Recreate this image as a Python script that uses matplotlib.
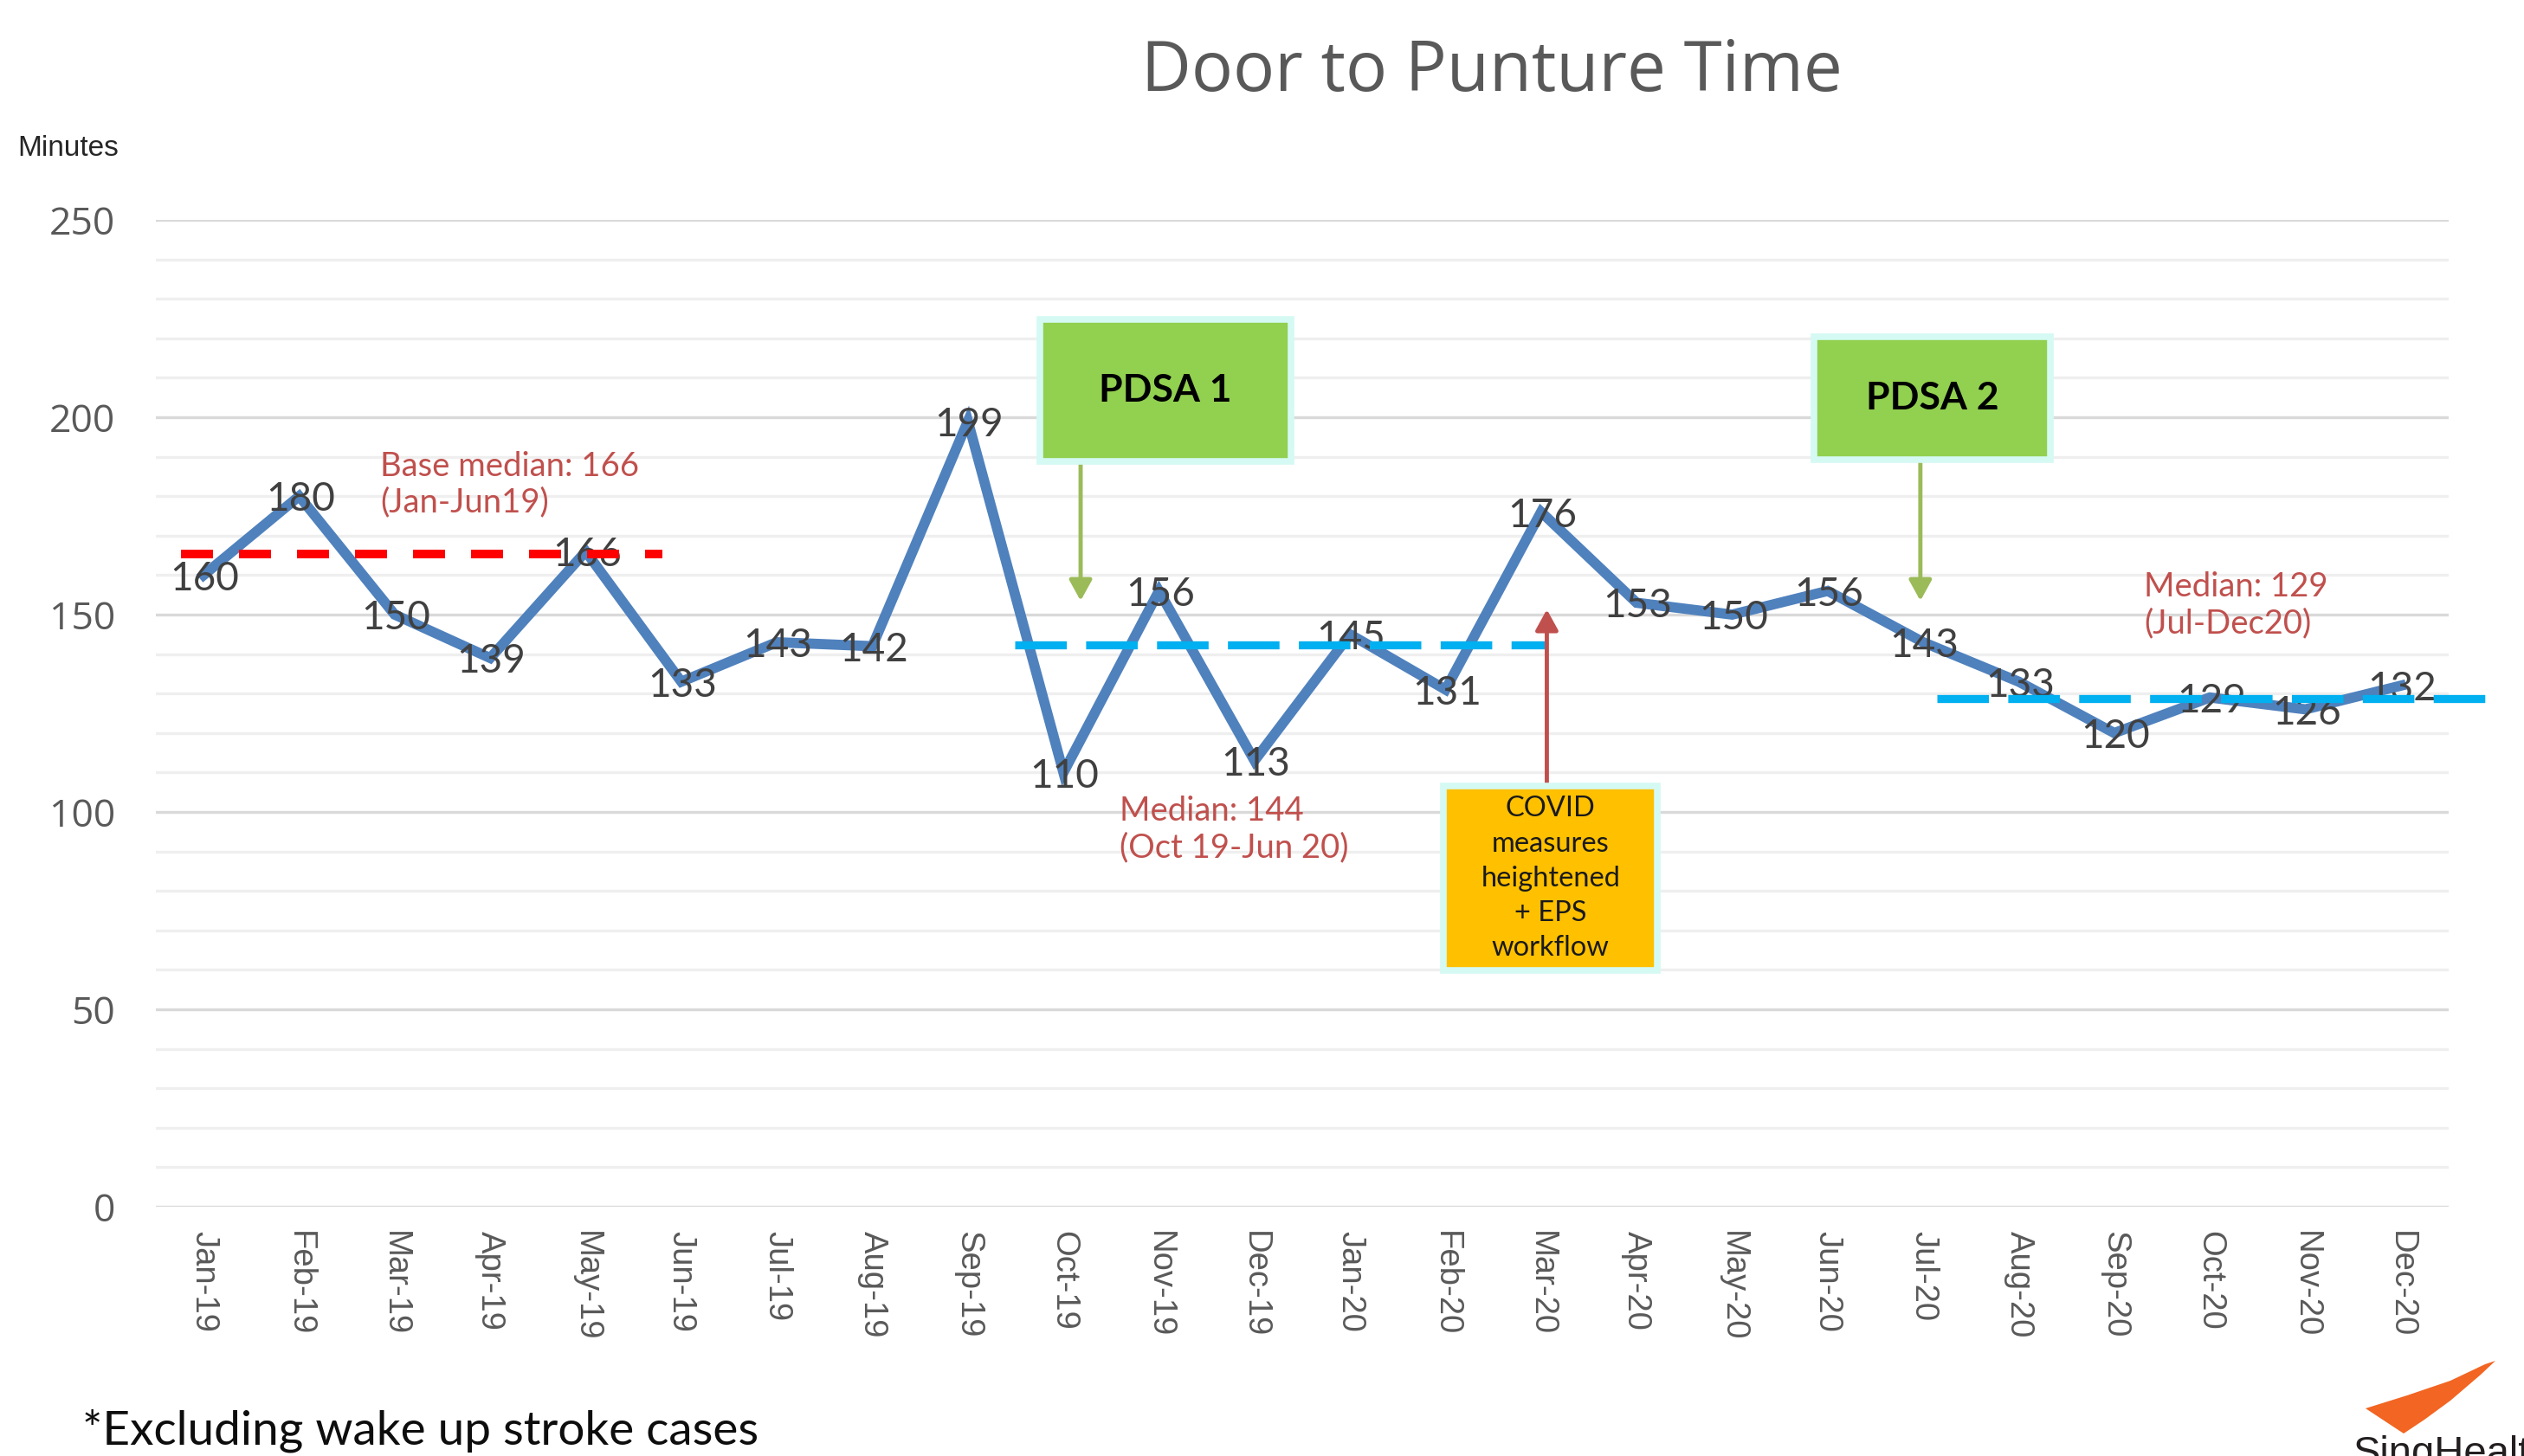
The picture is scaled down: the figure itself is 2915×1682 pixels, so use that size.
import matplotlib
matplotlib.use("Agg")
import matplotlib.pyplot as plt
from matplotlib.patches import Rectangle, FancyArrowPatch, Polygon
from matplotlib.ticker import MultipleLocator

# ---------------- data ----------------
months = ["Jan-19", "Feb-19", "Mar-19", "Apr-19", "May-19", "Jun-19", "Jul-19", "Aug-19",
          "Sep-19", "Oct-19", "Nov-19", "Dec-19", "Jan-20", "Feb-20", "Mar-20", "Apr-20",
          "May-20", "Jun-20", "Jul-20", "Aug-20", "Sep-20", "Oct-20", "Nov-20", "Dec-20"]
minutes = [160, 180, 150, 139, 166, 133, 143, 142, 199, 110, 156, 113,
           145, 131, 176, 153, 150, 156, 143, 133, 120, 129, 126, 132]

# median reference lines: (x start, x end, level as drawn)
median_x0 = [-0.24, 8.49, 18.14]
median_x1 = [4.80, 14.04, 23.91]
median_y = [165.3, 142.3, 128.7]
median_labels = ["Base median: 166\n(Jan-Jun19)", "Median: 144\n(Oct 19-Jun 20)",
                 "Median: 129\n(Jul-Dec20)"]
median_label_x = [1.85, 9.59, 20.31]
median_label_y = [183.0, 95.6, 152.4]

yticks = [0, 50, 100, 150, 200, 250]

# ---------------- style ----------------
LINE_BLUE = "#4F81BD"
NOTE_RED = "#C0504D"
CALIBRI = ["Lato", "DejaVu Sans"]
SEGOE = ["Open Sans", "DejaVu Sans"]
ARIAL = ["Liberation Sans", "DejaVu Sans"]

W, H = 2915, 1682
fig = plt.figure(figsize=(W / 100, H / 100), dpi=100)
fig.patch.set_facecolor("white")

ax = fig.add_axes([180 / W, 1 - 1394 / H, (2828 - 180) / W, (1394 - 254) / H])
ax.set_facecolor("white")
ax.set_xlim(-0.5, 23.5)
ax.set_ylim(0, 250)

# grid
ax.yaxis.set_major_locator(MultipleLocator(50))
ax.yaxis.set_minor_locator(MultipleLocator(10))
ax.grid(axis="y", which="minor", color="#EFEFEF", linewidth=2.4, zorder=0)
ax.grid(axis="y", which="major", color="#D9D9D9", linewidth=2.4, zorder=0)
ax.set_axisbelow(True)
for s in ax.spines.values():
    s.set_visible(False)

ax.set_yticks(yticks)
ax.set_yticklabels([str(v) for v in yticks], fontfamily=SEGOE, fontsize=32, color="#595959")
ax.tick_params(axis="y", which="both", length=0, pad=34)
x = list(range(len(months)))
ax.set_xticks(x)
ax.set_xticklabels(months, rotation=-90, fontfamily=ARIAL, fontsize=27.5, color="#595959",
                   va="top", ha="center")
ax.tick_params(axis="x", length=0, pad=20)

# data line
ax.plot(x, minutes, color=LINE_BLUE, linewidth=8.5, solid_joinstyle="miter", zorder=2)
for xi, v in zip(x, minutes):
    ax.annotate(str(v), (xi, v), xytext=(1, -3), textcoords="offset points",
                ha="center", va="center", fontfamily=CALIBRI, fontsize=33,
                color="#404040", zorder=3)

# median lines
median_colors = ["#FF0000", "#00B0F0", "#00B0F0"]
median_dash = [(0, (3.7, 3.0)), (0, (6.4, 2.4)), (0, (6.4, 2.4))]
median_lw = [7.2, 6.7, 6.7]
for x0, x1, y, c, ls, lw in zip(median_x0, median_x1, median_y, median_colors, median_dash, median_lw):
    ax.plot([x0, x1], [y, y], color=c, linewidth=lw, linestyle=ls, dash_capstyle="butt",
            zorder=4, clip_on=False)
for tx, ty, t in zip(median_label_x, median_label_y, median_labels):
    ax.text(tx, ty, t, ha="left", va="center", fontfamily=CALIBRI, fontsize=27.5,
            color=NOTE_RED, linespacing=1.2, zorder=5)

# boxes
BORDER = "#D5FAF3"
def box(x0, x1, y0, y1, face, text, **kw):
    ax.add_patch(Rectangle((x0, y0), x1 - x0, y1 - y0, facecolor=face, edgecolor=BORDER,
                           linewidth=5.5, zorder=6, clip_on=False))
    ax.text((x0 + x1) / 2, (y0 + y1) / 2, text, ha="center", va="center", zorder=7, **kw)

box(8.755, 11.384, 188.9, 224.7, "#92D050", "PDSA 1", fontfamily=CALIBRI,
    fontsize=32, fontweight="bold", color="black")
box(16.86, 19.33, 189.3, 220.4, "#92D050", "PDSA 2", fontfamily=CALIBRI,
    fontsize=32, fontweight="bold", color="black")
box(12.98, 15.22, 59.8, 106.6, "#FFC000", "COVID\nmeasures\nheightened\n+ EPS\nworkflow",
    fontfamily=CALIBRI, fontsize=23.5, color="#1A1A1A", linespacing=1.42)

# arrows
def arrow(xa, y_from, y_to, color):
    ax.add_patch(FancyArrowPatch((xa, y_from), (xa, y_to),
                                 arrowstyle="-|>,head_length=0.4,head_width=0.22",
                                 mutation_scale=36, color=color, linewidth=3.5,
                                 shrinkA=0, shrinkB=0, zorder=5))

arrow(9.18, 188.9, 153.5, "#9BBB59")
arrow(17.97, 189.3, 153.5, "#9BBB59")
arrow(14.06, 106.6, 151.3, NOTE_RED)

# titles and texts
fig.text(1723 / W, 1 - 84 / H, "Door to Punture Time", ha="center", va="center",
         fontfamily=SEGOE, fontsize=57.5, color="#595959")
fig.text(20 / W, 1 - 172 / H, "Minutes", ha="left", va="center", fontfamily=ARIAL,
         fontsize=24, color="#262626")
fig.text(95 / W, 1 - 1668 / H, "*Excluding wake up stroke cases", ha="left", va="baseline",
         fontfamily=CALIBRI, fontsize=39.5, color="#0D0D0D")

# SingHealth logo (decorative)
def fp(px, py):
    return (px / W, 1 - py / H)
swoosh = [fp(2732, 1627), fp(2780, 1612), fp(2830, 1595), fp(2870, 1576), fp(2882, 1572),
          fp(2865, 1588), fp(2830, 1618), fp(2800, 1640), fp(2776, 1656)]
fig.patches.append(Polygon(swoosh, closed=True, facecolor="#F26522", edgecolor="none",
                           transform=fig.transFigure, figure=fig))
fig.text(2718 / W, 1 - 1692 / H, "SingHealth", ha="left", va="baseline", fontfamily=ARIAL,
         fontsize=34, color="#231F20")

fig.savefig("out.png", dpi=100, facecolor="white")
